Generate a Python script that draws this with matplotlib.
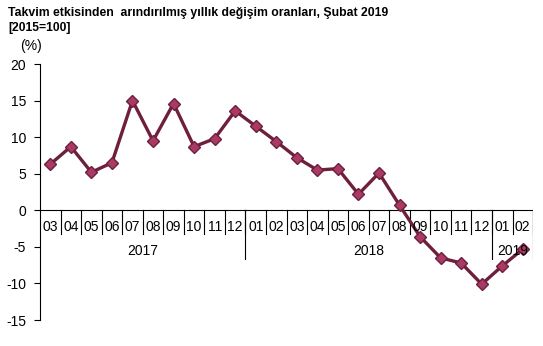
import numpy as np
import matplotlib.pyplot as plt

plt.rcParams['font.family'] = ['Liberation Sans', 'DejaVu Sans']
plt.rcParams['axes.unicode_minus'] = False

months = ['03', '04', '05', '06', '07', '08', '09', '10', '11', '12',
          '01', '02', '03', '04', '05', '06', '07', '08', '09', '10', '11', '12',
          '01', '02']
years = ['2017', '2018', '2019']
year_counts = [10, 12, 2]
values = [6.3, 8.7, 5.2, 6.5, 15.0, 9.5, 14.6, 8.7, 9.8, 13.6,
          11.5, 9.4, 7.2, 5.5, 5.7, 2.2, 5.1, 0.7, -3.6, -6.5, -7.2, -10.1,
          -7.6, -5.3]
title = 'Takvim etkisinden  arındırılmış yıllık değişim oranları, Şubat 2019'
subtitle = '[2015=100]'

fig = plt.figure(figsize=(5.43, 3.46), dpi=100)
ax = fig.add_axes([0.0737, 0.075, 0.908, 0.74])

x = np.arange(len(values))
ax.plot(x, values, color='#6e1f3c', lw=2.4, zorder=3,
        marker='D', markersize=6, markerfacecolor='#a83a65',
        markeredgecolor='#6e1f3c', markeredgewidth=1.0)

ax.set_xlim(-0.5, len(values) - 0.5)
ax.set_ylim(-15, 20)
ax.set_yticks(np.arange(-15, 21, 5))
ax.tick_params(axis='y', labelsize=10, length=4, width=0.8, pad=6)
ax.set_xticks([])
for s in ['top', 'right', 'bottom']:
    ax.spines[s].set_visible(False)
ax.spines['left'].set_linewidth(0.8)

# category axis at zero
ax.axhline(0, color='black', lw=0.8, zorder=2)
for i, m in enumerate(months):
    ax.text(i, -2.3, m, ha='center', va='center', fontsize=10)
for b in range(1, len(months) + 1):
    ax.plot([b - 0.5, b - 0.5], [0, -3.3], color='black', lw=0.8, zorder=2)

start = 0
for yr, n in zip(years, year_counts):
    ax.text(start + n / 2 - 0.5, -5.6, yr, ha='center', va='center', fontsize=10)
    start += n
    ax.plot([start - 0.5, start - 0.5], [0, -6.7], color='black', lw=0.8, zorder=2)

fig.text(0.015, 0.963, title, fontsize=8.8, fontweight='bold', va='center')
fig.text(0.015, 0.919, subtitle, fontsize=8.7, fontweight='bold', va='center')
fig.text(0.037, 0.866, '(%)', fontsize=10, va='center')

fig.savefig('out.png', dpi=100)
